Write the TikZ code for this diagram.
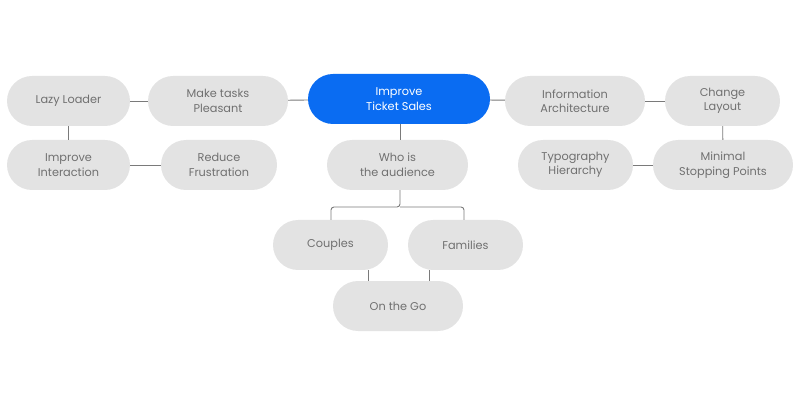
\documentclass[tikz,border=0pt]{standalone}
\usepackage{fontspec}
\setmainfont{Poppins}
\definecolor{pillgray}{HTML}{E3E3E3}
\definecolor{textgray}{HTML}{707070}
\definecolor{linegray}{HTML}{7A7A7A}
\definecolor{salesblue}{HTML}{0A6CF2}
\tikzset{
  pill/.style={rectangle, rounded corners=25pt, fill=pillgray, text=textgray,
    minimum height=50pt, inner sep=0pt, align=center,
    font=\fontsize{11.3}{14.5}\selectfont},
  link/.style={draw=linegray, line width=0.9pt},
}
\begin{document}
\begin{tikzpicture}[x=1pt,y=-1pt]
\useasboundingbox (0,0) rectangle (800,403);
% top row
\node[pill, minimum width=123pt] (lazy) at (68.5,101) {Lazy Loader};
\node[pill, minimum width=140pt] (pleasant) at (218,101) {Make tasks\\Pleasant};
\node[pill, minimum width=182pt, fill=salesblue, text=white] (sales) at (399,99) {Improve\\Ticket Sales};
\node[pill, minimum width=140pt] (info) at (575,101) {Information\\Architecture};
\node[pill, minimum width=115pt] (layout) at (722.5,101) {Change\\Layout};
% second row
\node[pill, minimum width=123pt] (interaction) at (68.5,165) {Improve\\Interaction};
\node[pill, minimum width=116pt] (frustration) at (219,165) {Reduce\\Frustration};
\node[pill, minimum width=141pt] (audience) at (397.5,165) {Who is\\the audience};
\node[pill, minimum width=115pt] (typo) at (575.5,165) {Typography\\Hierarchy};
\node[pill, minimum width=140pt] (stopping) at (723,165) {Minimal\\Stopping Points};
% audience
\node[pill, minimum width=115pt] (couples) at (330.5,245) {Couples};
\node[pill, minimum width=115pt] (families) at (465.5,245) {Families};
\node[pill, minimum width=130pt] (go) at (398,306) {On the Go};
\coordinate (fork) at (400,207);

\draw[link] (lazy) -- (pleasant);
\draw[link] (pleasant) -- (sales);
\draw[link] (sales) -- (info);
\draw[link] (info) -- (layout);
\draw[link] (lazy) -- (interaction);
\draw[link] (interaction) -- (frustration);
\draw[link] (layout) -- (stopping);
\draw[link] (stopping) -- (typo);
\draw[link] (sales.south -| fork) -- (audience.north -| fork);
\draw[link, rounded corners=3pt] (audience.south -| fork) -- (fork) -| (couples.north -| 331,0);
\draw[link, rounded corners=3pt] (fork) -| (families.north -| 464,0);
\draw[link] (couples.south -| 368,0) -- (go.north -| 368,0);
\draw[link] (families.south -| 429,0) -- (go.north -| 429,0);
\end{tikzpicture}
\end{document}
